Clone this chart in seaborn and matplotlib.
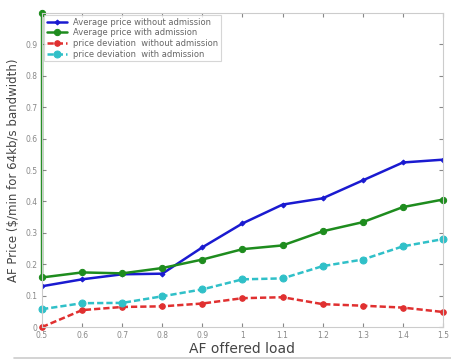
import matplotlib
matplotlib.use("Agg")
import matplotlib.pyplot as plt
from matplotlib.lines import Line2D
import seaborn as sns
import pandas as pd

load = [0.5, 0.6, 0.7, 0.8, 0.9, 1.0, 1.1, 1.2, 1.3, 1.4, 1.5]
avg_without = [0.130, 0.152, 0.168, 0.170, 0.254, 0.330, 0.390, 0.410, 0.467, 0.524, 0.533]
avg_with = [0.158, 0.174, 0.171, 0.188, 0.215, 0.248, 0.260, 0.305, 0.334, 0.382, 0.406]
dev_without = [0.000, 0.054, 0.064, 0.066, 0.075, 0.092, 0.095, 0.073, 0.068, 0.062, 0.048]
dev_with = [0.057, 0.076, 0.077, 0.098, 0.120, 0.152, 0.155, 0.194, 0.215, 0.257, 0.280]
# the admission series starts from a saturated value at the lowest load
avg_with_start = 1.0

labels = ["Average price without admission", "Average price with admission",
          "price deviation  without admission", "price deviation  with admission"]

sns.set_style("white")
plt.rcParams["font.family"] = ["DejaVu Sans"]

fig = plt.figure(figsize=(4.52, 3.61), dpi=100)
ax = fig.add_axes([0.093, 0.094, 0.887, 0.870])

df_blue = pd.DataFrame({"x": load, "y": avg_without})
df_green = pd.DataFrame({"x": [load[0]] + load, "y": [avg_with_start] + avg_with})
df_red = pd.DataFrame({"x": load, "y": dev_without})
df_cyan = pd.DataFrame({"x": load, "y": dev_with})

sns.lineplot(data=df_blue, x="x", y="y", ax=ax, color="#1a1ad0", lw=1.8,
             marker="D", ms=2.5, mec="#1a1ad0", label=labels[0], sort=False, estimator=None)
sns.lineplot(data=df_green, x="x", y="y", ax=ax, color="#1e8c1e", lw=1.8,
             marker="o", ms=4.5, mec="#1e8c1e", label=labels[1], sort=False,
             estimator=None, clip_on=False)
sns.lineplot(data=df_red, x="x", y="y", ax=ax, color="#e03030", lw=1.8, dashes=(2.5, 1.2),
             marker="o", ms=4, mec="#e03030", label=labels[2], sort=False,
             estimator=None, clip_on=False)
sns.lineplot(data=df_cyan, x="x", y="y", ax=ax, color="#30c0c8", lw=1.8, dashes=(2.5, 1.2),
             marker="o", ms=5, mec="#30c0c8", label=labels[3], sort=False,
             estimator=None, clip_on=False)

ax.set_xlim(0.5, 1.5)
ax.set_ylim(0, 1.0)
ax.set_xticks(load)
ax.set_xticklabels(["0.5", "0.6", "0.7", "0.8", "0.9", "1", "1.1", "1.2", "1.3", "1.4", "1.5"])
ax.set_yticks([0, 0.1, 0.2, 0.3, 0.4, 0.5, 0.6, 0.7, 0.8, 0.9])
ax.set_yticklabels(["0", "0.1", "0.2", "0.3", "0.4", "0.5", "0.6", "0.7", "0.8", "0.9"])
ax.tick_params(direction="in", length=3, labelsize=5.5, colors="#888888",
               top=True, right=True, left=True, bottom=True, pad=3)
for s in ax.spines.values():
    s.set_color("#cccccc")
    s.set_linewidth(0.8)

ax.set_xlabel("AF offered load", fontsize=10, color="#444444", labelpad=1)
ax.set_ylabel("AF Price ($/min for 64kb/s bandwidth)", fontsize=8.5, color="#444444", labelpad=4)

leg = ax.legend(loc="upper left", fontsize=6, frameon=True, fancybox=False,
                borderpad=0.3, labelspacing=0.2, handlelength=2.4,
                borderaxespad=0.25)
leg.get_frame().set_edgecolor("#cccccc")
leg.get_frame().set_linewidth(0.8)
for t in leg.get_texts():
    t.set_color("#666666")

fig.add_artist(Line2D([0.03, 1.0], [0.008, 0.008], color="#cccccc", lw=1.2))

fig.savefig("out.png", dpi=100)
